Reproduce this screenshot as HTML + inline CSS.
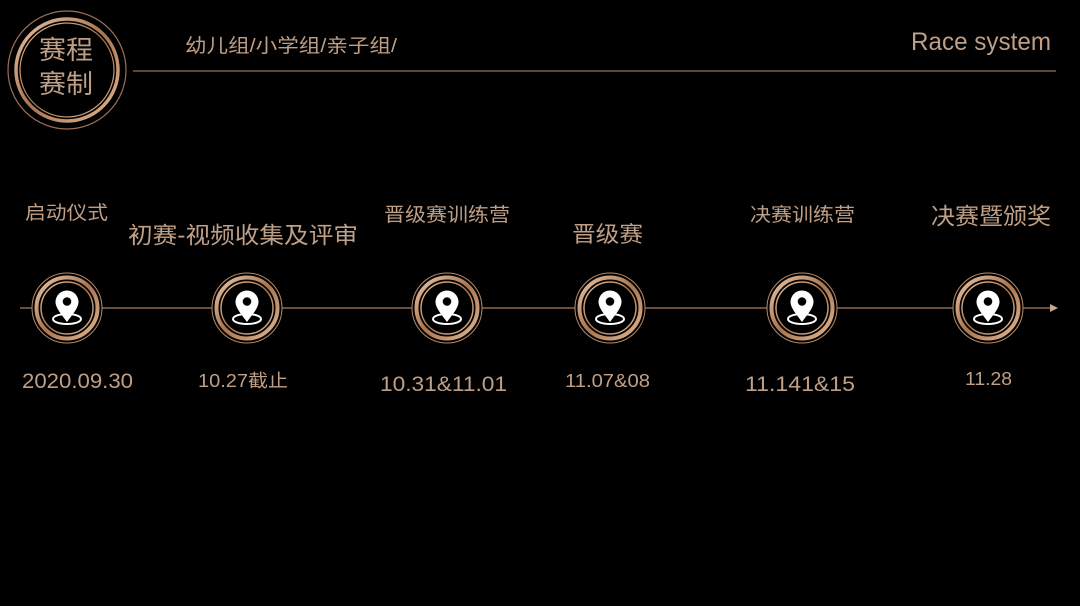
<!DOCTYPE html>
<html><head><meta charset="utf-8"><style>
html,body{margin:0;padding:0;background:#000;}
svg{display:block;}
text{font-family:"Liberation Sans","Noto Sans CJK SC",sans-serif;fill:#bf9f86;}
</style></head><body>
<svg width="1080" height="606" viewBox="0 0 1080 606" xmlns="http://www.w3.org/2000/svg">
<defs>
<linearGradient id="g" x1="0" y1="0" x2="1" y2="1">
<stop offset="0" stop-color="#e9c3a3"/><stop offset="0.5" stop-color="#a9744f"/><stop offset="1" stop-color="#e2b894"/>
</linearGradient>
<g id="node">
<circle r="35" fill="#000" stroke="#b48a6c" stroke-width="1"/>
<circle r="30.5" fill="none" stroke="url(#g)" stroke-width="4"/>
<circle r="26" fill="none" stroke="url(#g)" stroke-width="1.5"/>
<ellipse cx="0" cy="11" rx="14" ry="5" fill="none" stroke="#fff" stroke-width="2"/>
<path d="M0,14 C-5,7 -11.5,0 -11.5,-6 A11.5,11.5 0 1 1 11.5,-6 C11.5,0 5,7 0,14 Z" fill="#fff"/>
<circle cx="0" cy="-6.5" r="4.3" fill="#000"/>
</g>
</defs>
<rect width="1080" height="606" fill="#000"/>
<circle cx="67" cy="70" r="59" fill="none" stroke="#9c7058" stroke-width="1.2"/>
<circle cx="67" cy="70" r="51" fill="none" stroke="url(#g)" stroke-width="3.5"/>
<circle cx="67" cy="70" r="47" fill="none" stroke="url(#g)" stroke-width="1.2"/>
<text x="39" y="59" font-size="26" textLength="54" lengthAdjust="spacingAndGlyphs">赛程</text>
<text x="39" y="93" font-size="26" textLength="54" lengthAdjust="spacingAndGlyphs">赛制</text>
<text x="185" y="52" font-size="19" textLength="212" lengthAdjust="spacingAndGlyphs">幼儿组/小学组/亲子组/</text>
<line x1="133" y1="71" x2="1056" y2="71" stroke="#7d5a47" stroke-width="1.5"/>
<text x="911" y="50" font-size="25" textLength="140" lengthAdjust="spacingAndGlyphs">Race system</text>
<line x1="20" y1="308" x2="1050" y2="308" stroke="#8e6850" stroke-width="1.5"/>
<polygon points="1050,304 1058,308 1050,312" fill="#c8a88c"/>
<use href="#node" x="67" y="308"/>
<use href="#node" x="247" y="308"/>
<use href="#node" x="447" y="308"/>
<use href="#node" x="610" y="308"/>
<use href="#node" x="802" y="308"/>
<use href="#node" x="988" y="308"/>
<text x="25" y="219" font-size="19" textLength="83" lengthAdjust="spacingAndGlyphs">启动仪式</text>
<text x="128" y="243" font-size="23" textLength="230" lengthAdjust="spacingAndGlyphs">初赛-视频收集及评审</text>
<text x="384" y="221" font-size="19" textLength="126" lengthAdjust="spacingAndGlyphs">晋级赛训练营</text>
<text x="572" y="242" font-size="22" textLength="71" lengthAdjust="spacingAndGlyphs">晋级赛</text>
<text x="750" y="221" font-size="19" textLength="105" lengthAdjust="spacingAndGlyphs">决赛训练营</text>
<text x="931" y="224" font-size="23" textLength="120" lengthAdjust="spacingAndGlyphs">决赛暨颁奖</text>
<text x="22" y="388" font-size="21" textLength="111" lengthAdjust="spacingAndGlyphs">2020.09.30</text>
<text x="198" y="387" font-size="18" textLength="90" lengthAdjust="spacingAndGlyphs">10.27截止</text>
<text x="380" y="391" font-size="21" textLength="127" lengthAdjust="spacingAndGlyphs">10.31&amp;11.01</text>
<text x="565" y="387" font-size="18" textLength="85" lengthAdjust="spacingAndGlyphs">11.07&amp;08</text>
<text x="745" y="391" font-size="21" textLength="110" lengthAdjust="spacingAndGlyphs">11.141&amp;15</text>
<text x="965" y="385" font-size="18" textLength="47" lengthAdjust="spacingAndGlyphs">11.28</text>
</svg>
</body></html>
